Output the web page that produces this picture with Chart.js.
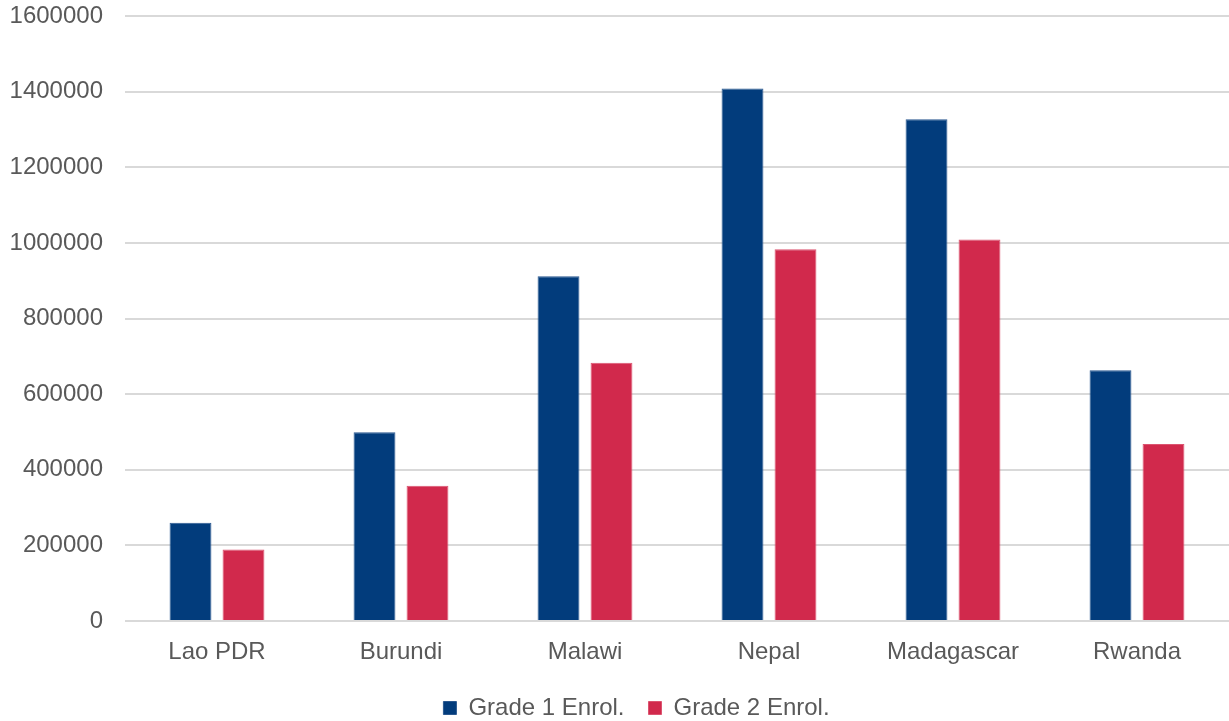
<!DOCTYPE html>
<html>
<head>
<meta charset="utf-8">
<script src="https://cdn.jsdelivr.net/npm/chart.js@4.4.1/dist/chart.umd.min.js"></script>
<style>
  html, body { margin: 0; padding: 0; background: #ffffff; }
  #wrap { width: 1229px; height: 721px; }
</style>
</head>
<body>
<div id="wrap"><canvas id="chart" width="1229" height="721"></canvas></div>
<script>
// Enrolment by country, first and second grade
const countries = ['Lao PDR', 'Burundi', 'Malawi', 'Nepal', 'Madagascar', 'Rwanda'];
const grade1Enrol = [260000, 499000, 912000, 1408000, 1327000, 663000];
const grade2Enrol = [189000, 358000, 683000, 983000, 1009000, 468000];
const yTicks = [0, 200000, 400000, 600000, 800000, 1000000, 1200000, 1400000, 1600000];

const textColor = '#595959';
const gridColor = '#d9d9d9';
const fontFamily = '"Liberation Sans", Arial, sans-serif';
const fontSize = 24;

// Legend: fixed block height and a small sideways nudge
const legendFit = {
  id: 'legendFit',
  beforeLayout(chart) {
    const lg = chart.legend;
    if (lg && !lg._fixedFit) {
      const fit = lg.fit.bind(lg);
      lg.fit = function () { fit(); this.height = 49; };
      lg._fixedFit = true;
    }
  },
  afterLayout(chart) {
    const lg = chart.legend;
    if (lg) { lg.left += 22; lg.right += 22; }
  }
};

new Chart(document.getElementById('chart'), {
  type: 'bar',
  data: {
    labels: countries,
    datasets: [
      {
        label: 'Grade 1 Enrol.',
        data: grade1Enrol,
        backgroundColor: '#023c7c',
        borderColor: '#2a5890',
        borderWidth: 1,
        barPercentage: 0.79,
        categoryPercentage: 0.576
      },
      {
        label: 'Grade 2 Enrol.',
        data: grade2Enrol,
        backgroundColor: '#d1294c',
        borderColor: '#dc5470',
        borderWidth: 1,
        barPercentage: 0.79,
        categoryPercentage: 0.576
      }
    ]
  },
  plugins: [legendFit],
  options: {
    responsive: false,
    animation: false,
    layout: { padding: 0 },
    plugins: {
      tooltip: { enabled: false },
      legend: {
        position: 'bottom',
        labels: {
          color: textColor,
          font: { family: fontFamily, size: fontSize },
          boxWidth: 13,
          boxHeight: 13,
          padding: 24
        }
      }
    },
    scales: {
      x: {
        afterFit: (scale) => { scale.height = 51; },
        grid: { display: false, drawTicks: false },
        border: { display: false },
        ticks: {
          color: textColor,
          font: { family: fontFamily, size: fontSize },
          padding: 17,
          maxRotation: 0
        }
      },
      y: {
        min: 0,
        max: 1600000,
        afterFit: (scale) => {
          scale.width = 125;
          scale.paddingTop = 16;
          scale.paddingBottom = 16;
        },
        afterBuildTicks: (scale) => { scale.ticks = yTicks.map(v => ({ value: v })); },
        grid: { color: gridColor, lineWidth: 2, drawTicks: false },
        border: { display: false },
        ticks: {
          color: textColor,
          font: { family: fontFamily, size: fontSize },
          padding: 22,
          callback: (v) => String(v)
        }
      }
    }
  }
});
</script>
</body>
</html>
